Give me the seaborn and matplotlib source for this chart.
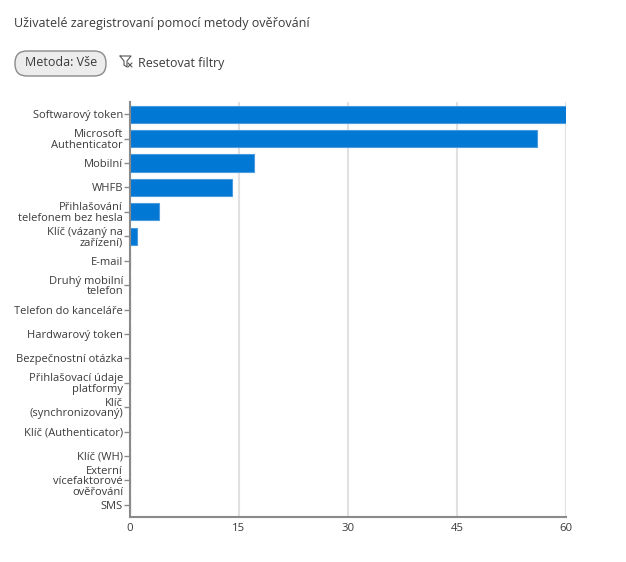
import matplotlib
matplotlib.use("Agg")
import matplotlib.pyplot as plt
import seaborn as sns
import pandas as pd
from matplotlib.patches import FancyBboxPatch
from matplotlib.lines import Line2D
from matplotlib.transforms import IdentityTransform

categories = [
    "Softwarový token",
    "Microsoft\nAuthenticator",
    "Mobilní",
    "WHFB",
    "Přihlašování\ntelefonem bez hesla",
    "Klíč (vázaný na\nzařízení)",
    "E-mail",
    "Druhý mobilní\ntelefon",
    "Telefon do kanceláře",
    "Hardwarový token",
    "Bezpečnostní otázka",
    "Přihlašovací údaje\nplatformy",
    "Klíč\n(synchronizovaný)",
    "Klíč (Authenticator)",
    "Klíč (WH)",
    "Externí\nvícefaktorové\nověřování",
    "SMS",
]
users = [60, 56, 17, 14, 4, 1, 0, 0, 0, 0, 0, 0, 0, 0, 0, 0, 0]
x_ticks = [0, 15, 30, 45, 60]

title = "Uživatelé zaregistrovaní pomocí metody ověřování"
pill_text = "Metoda: Vše"
reset_text = "Resetovat filtry"

W, H = 626, 562

sns.set_theme(style="white")
plt.rcParams["font.family"] = ["Open Sans", "DejaVu Sans"]

df = pd.DataFrame({"Metoda": categories, "Uživatelé": users})

fig = plt.figure(figsize=(W / 100, H / 100), dpi=100)
ax = fig.add_axes([130 / W, 1 - 517 / H, 436 / W, 415 / H])

sns.barplot(data=df, y="Metoda", x="Uživatelé", orient="h", color="#0078D4",
            saturation=1, width=0.7, edgecolor="#4a9be0", linewidth=0.8, ax=ax)

ax.set_xlim(0, 60)
ax.set_ylim(len(categories) - 0.5, -0.5)
ax.set_xticks(x_ticks)
ax.set_xticklabels([str(t) for t in x_ticks])
ax.set_xlabel("")
ax.set_ylabel("")
ax.grid(axis="x", color="#e1e1e1", linewidth=1.5)
ax.set_axisbelow(True)
for s in ["top", "right"]:
    ax.spines[s].set_visible(False)
for s in ["left", "bottom"]:
    ax.spines[s].set_color("#8a8a8a")
    ax.spines[s].set_linewidth(1.5)
ax.tick_params(axis="y", left=True, length=4, width=1, color="#8a8a8a", pad=1,
               labelsize=8.0, labelcolor="#3b3b3b")
ax.tick_params(axis="x", length=0, pad=4, labelsize=8.2, labelcolor="#3b3b3b")
for lbl in ax.get_yticklabels():
    lbl.set_linespacing(0.95)

fig.text(14 / W, 1 - 24 / H, title, fontsize=9.0, color="#3b3b3b", va="center", ha="left")

pill = FancyBboxPatch((15, H - 76), 91, 25,
                      boxstyle="round,pad=0,rounding_size=12",
                      transform=IdentityTransform(), facecolor="#ececec",
                      edgecolor="#8a8a8a", linewidth=1.0)
fig.patches.append(pill)
fig.text(61 / W, 1 - 63 / H, pill_text, fontsize=9.0, color="#3b3b3b",
         va="center", ha="center")

# funnel icon
fx, fy = 120, 56
pts = [(fx, fy), (fx + 11, fy), (fx + 7, fy + 5), (fx + 7, fy + 11), (fx + 4, fy + 9), (fx + 4, fy + 5), (fx, fy)]
fig.lines.append(Line2D([p[0] / W for p in pts], [1 - p[1] / H for p in pts],
                        transform=fig.transFigure, color="#555555", linewidth=0.8))
fig.lines.append(Line2D([(fx + 8) / W, (fx + 12) / W], [1 - (fy + 7) / H, 1 - (fy + 11) / H],
                        transform=fig.transFigure, color="#555555", linewidth=0.8))
fig.lines.append(Line2D([(fx + 8) / W, (fx + 12) / W], [1 - (fy + 11) / H, 1 - (fy + 7) / H],
                        transform=fig.transFigure, color="#555555", linewidth=0.8))
fig.text(138 / W, 1 - 63 / H, reset_text, fontsize=8.9, color="#3b3b3b",
         va="center", ha="left")

fig.savefig("out.png", dpi=100)
